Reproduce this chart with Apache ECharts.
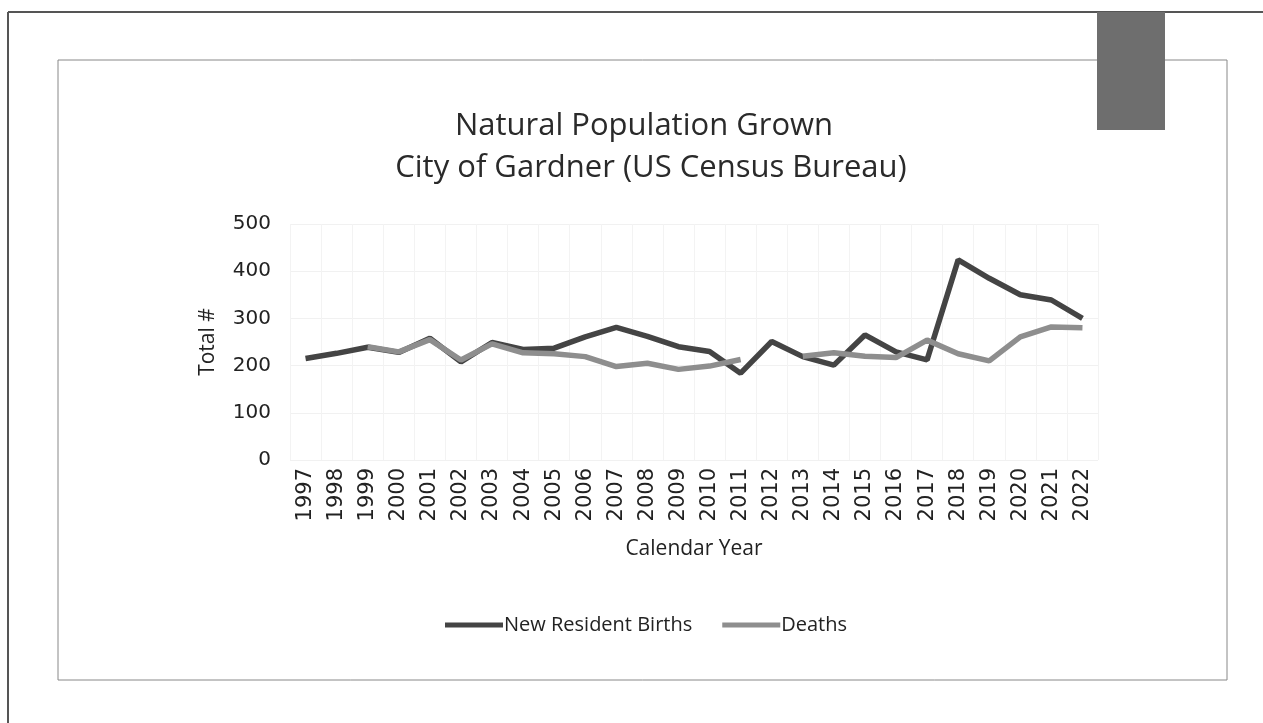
<!DOCTYPE html>
<html>
<head>
<meta charset="utf-8">
<script src="https://cdn.jsdelivr.net/npm/echarts@6/dist/echarts.min.js"></script>
<style>
html,body{margin:0;padding:0;background:#fff;}
#chart{width:1263px;height:723px;}
</style>
</head>
<body>
<div id="chart"></div>
<script>
var years = ['1997','1998','1999','2000','2001','2002','2003','2004','2005','2006','2007','2008','2009','2010','2011','2012','2013','2014','2015','2016','2017','2018','2019','2020','2021','2022'];
var births = [215, 226, 239, 228, 258, 208, 249, 234, 237, 261, 281, 262, 240, 230, 184, 251, 219, 201, 265, 229, 212, 424, 385, 350, 339, 300];
var deaths = [null, null, 240, 229, 255, 212, 246, 227, 225, 219, 198, 205, 192, 199, 213, null, 220, 227, 220, 217, 254, 225, 210, 261, 282, 280];
var yTicks = [0, 100, 200, 300, 400, 500];
var titleLines = ['Natural Population Grown', 'City of Gardner (US Census Bureau)'];

var chart = echarts.init(document.getElementById('chart'));
var FONT = 'Open Sans, Roboto, sans-serif';
chart.setOption({
  backgroundColor: '#ffffff',
  animation: false,
  graphic: [
    {type: 'line', shape: {x1: 8, y1: 12, x2: 1263, y2: 12}, style: {stroke: '#555', lineWidth: 2}},
    {type: 'line', shape: {x1: 8, y1: 12, x2: 8, y2: 723}, style: {stroke: '#555', lineWidth: 2}},
    {type: 'rect', shape: {x: 58, y: 60, width: 1169, height: 620}, style: {fill: 'none', stroke: '#888', lineWidth: 1}},
    {type: 'rect', shape: {x: 1097, y: 12, width: 68, height: 118}, style: {fill: '#6e6e6e'}, z: 10},
    {type: 'text', x: 644, y: 126, style: {text: titleLines[0], font: 'normal 31px "Open Sans", Roboto, sans-serif', fill: '#2a2a2a', textAlign: 'center', textVerticalAlign: 'middle'}},
    {type: 'text', x: 651, y: 168, style: {text: titleLines[1], font: 'normal 31px "Open Sans", Roboto, sans-serif', fill: '#2a2a2a', textAlign: 'center', textVerticalAlign: 'middle'}}
  ],
  legend: {
    top: 610,
    left: 440,
    itemWidth: 58,
    itemHeight: 5,
    itemGap: 30,
    icon: 'rect',
    textStyle: {fontFamily: FONT, fontSize: 20, color: '#222', padding: [0, 0, 0, -4]},
    data: ['New Resident Births', 'Deaths']
  },
  grid: {left: 290, right: 165, top: 224, bottom: 263},
  xAxis: {
    type: 'category',
    data: years,
    boundaryGap: true,
    name: 'Calendar Year',
    nameLocation: 'middle',
    nameGap: 79,
    nameTextStyle: {fontFamily: FONT, fontSize: 21, color: '#222'},
    axisLine: {show: false},
    axisTick: {show: false},
    axisLabel: {rotate: 90, fontFamily: 'DejaVu Sans, sans-serif', fontSize: 21, color: '#222', margin: 8, interval: 0},
    splitLine: {show: true, lineStyle: {color: '#f3f3f3', width: 1}}
  },
  yAxis: {
    type: 'value',
    min: yTicks[0],
    max: yTicks[yTicks.length - 1],
    interval: 100,
    name: 'Total #',
    nameLocation: 'middle',
    nameGap: 71,
    nameTextStyle: {fontFamily: FONT, fontSize: 21, color: '#222'},
    axisLine: {show: false},
    axisTick: {show: false},
    axisLabel: {fontFamily: 'DejaVu Sans, sans-serif', fontSize: 20, color: '#222', margin: 19},
    splitLine: {show: true, lineStyle: {color: '#f1f1f1', width: 1}}
  },
  series: [
    {
      name: 'New Resident Births',
      type: 'line',
      data: births,
      symbol: 'none',
      lineStyle: {width: 5.5, color: '#444444'},
      itemStyle: {color: '#444444'}
    },
    {
      name: 'Deaths',
      type: 'line',
      data: deaths,
      symbol: 'none',
      lineStyle: {width: 5.5, color: '#8e8e8e'},
      itemStyle: {color: '#8e8e8e'}
    }
  ]
});
</script>
</body>
</html>
